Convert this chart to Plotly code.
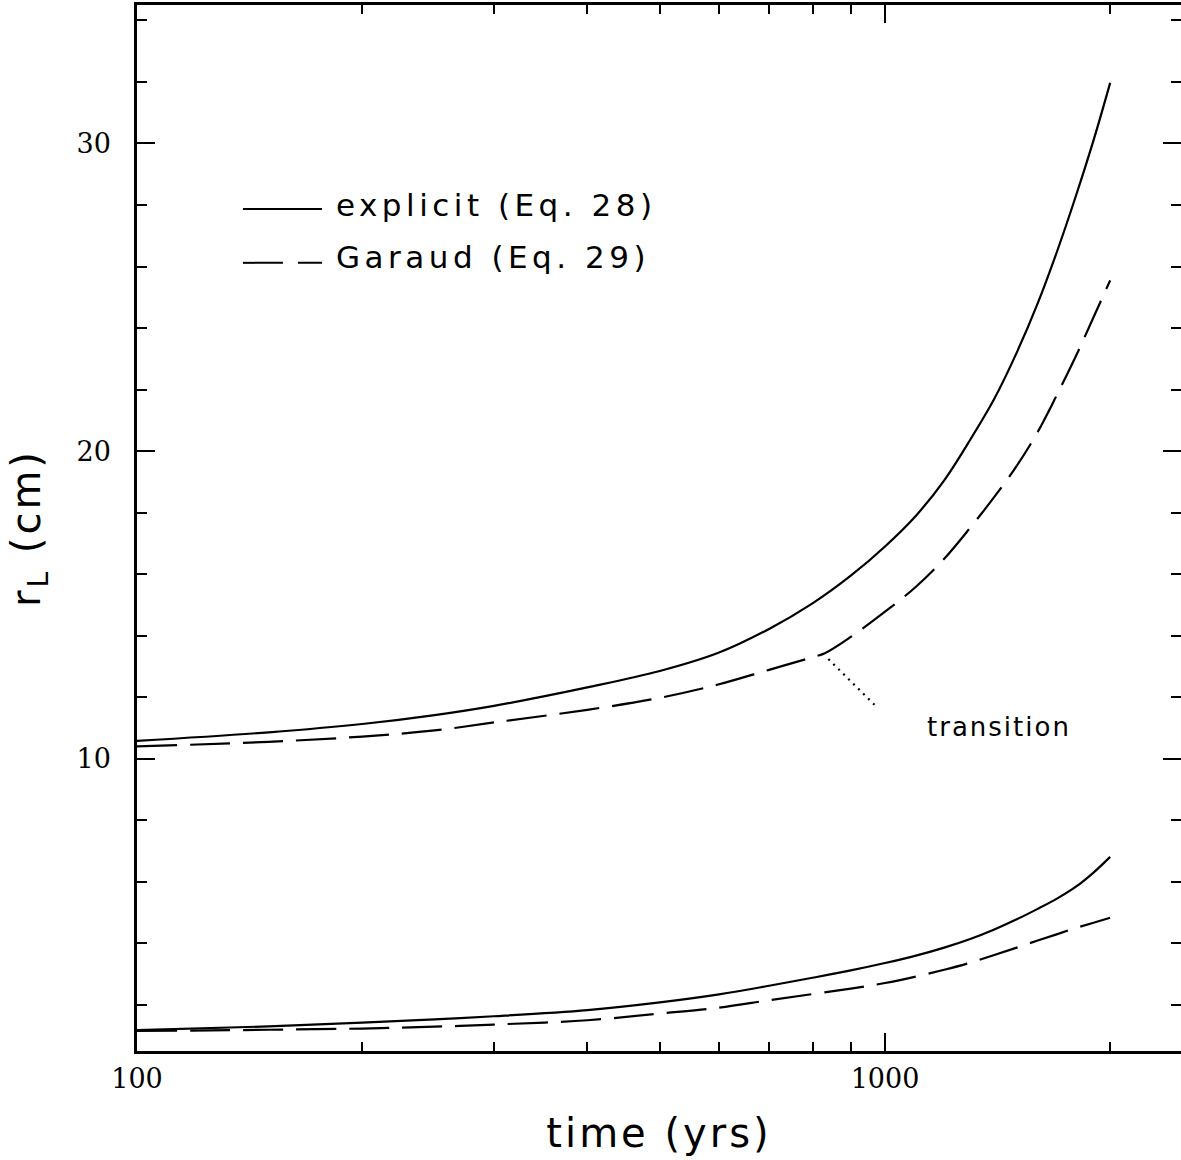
import plotly.graph_objects as go

# ---------------- data ----------------
time_yrs = [100, 150, 200, 250, 300, 400, 500, 600, 700, 800, 900, 1000,
            1100, 1200, 1300, 1400, 1500, 1600, 1700, 1800, 1900, 2000]

explicit_upper = [10.58, 10.86, 11.13, 11.42, 11.72, 12.32, 12.85, 13.45, 14.22, 15.05,
                  15.95, 16.90, 17.90, 19.05, 20.37, 21.70, 23.20, 24.80, 26.52, 28.30,
                  30.10, 31.97]

garaud_time_upper = [100, 150, 200, 250, 300, 400, 500, 600, 700, 800, 831, 900, 1000,
                     1100, 1200, 1300, 1400, 1500, 1600, 1700, 1800, 1900, 2000]
garaud_upper = [10.40, 10.55, 10.72, 10.92, 11.18, 11.59, 11.98, 12.42, 12.89, 13.30, 13.43,
                13.96, 14.78, 15.59, 16.50, 17.51, 18.51, 19.52, 20.62, 21.86, 23.09,
                24.35, 25.55]

explicit_lower = [1.18, 1.30, 1.42, 1.53, 1.63, 1.83, 2.08, 2.34, 2.62, 2.88, 3.12, 3.36,
                  3.60, 3.86, 4.14, 4.45, 4.78, 5.12, 5.46, 5.84, 6.30, 6.81]

garaud_lower = [1.15, 1.19, 1.23, 1.29, 1.36, 1.50, 1.72, 1.91, 2.15, 2.35, 2.53, 2.71,
                2.92, 3.14, 3.37, 3.62, 3.86, 4.09, 4.30, 4.50, 4.67, 4.83]

transition_t = [840, 975]
transition_r = [13.24, 11.68]

x_tickvals = [100, 1000]
x_ticktext = ["100", "1000"]
x_minor = [200, 300, 400, 500, 600, 700, 800, 900, 2000]
y_tickvals = [10, 20, 30]
y_ticktext = ["10", "20", "30"]

legend_labels = ["explicit (Eq. 28)", "Garaud (Eq. 29)"]

# ---------------- figure ----------------
LW = 2.2
DASH = "40px,13px"
HF = "DejaVu Sans"
XR = [2, 2 + 1044 / 748]
YR = [0.5, 34.5]

def sp(txt, ls):
    return '<span style="letter-spacing:%spx">%s</span>' % (ls, txt)

fig = go.Figure()
fig.add_trace(go.Scatter(x=time_yrs, y=explicit_upper, mode="lines", line_shape="spline",
                         line=dict(color="black", width=LW), showlegend=False))
fig.add_trace(go.Scatter(x=garaud_time_upper, y=garaud_upper, mode="lines", line_shape="spline",
                         line=dict(color="black", width=LW, dash=DASH), showlegend=False))
fig.add_trace(go.Scatter(x=time_yrs, y=explicit_lower, mode="lines", line_shape="spline",
                         line=dict(color="black", width=LW), showlegend=False))
fig.add_trace(go.Scatter(x=time_yrs, y=garaud_lower, mode="lines", line_shape="spline",
                         line=dict(color="black", width=LW, dash=DASH), showlegend=False))
fig.add_trace(go.Scatter(x=transition_t, y=transition_r, mode="lines",
                         line=dict(color="black", width=2.2, dash="2px,5px"), showlegend=False))
# invisible trace that activates the mirrored (top/right) tick axes
fig.add_trace(go.Scatter(x=time_yrs, y=explicit_upper, mode="lines", xaxis="x2", yaxis="y2",
                         line=dict(color="rgba(0,0,0,0)", width=0), hoverinfo="skip", showlegend=False))

# legend (drawn manually to mimic original)
fig.add_shape(type="line", xref="paper", yref="paper", x0=0.1015, x1=0.1772, y0=0.805, y1=0.805,
              line=dict(color="black", width=2))
fig.add_shape(type="line", xref="paper", yref="paper", x0=0.1015, x1=0.1772, y0=0.7535, y1=0.7535,
              line=dict(color="black", width=2, dash="40px,15px"))
fig.add_annotation(xref="paper", yref="paper", x=0.1887, y=0.8085, xanchor="left", yanchor="middle",
                   text=sp(legend_labels[0], 4.5), showarrow=False, font=dict(family=HF, size=31, color="black"))
fig.add_annotation(xref="paper", yref="paper", x=0.1887, y=0.7595, xanchor="left", yanchor="middle",
                   text=sp(legend_labels[1], 4.5), showarrow=False, font=dict(family=HF, size=31, color="black"))

fig.add_annotation(x=3.0535, y=11.04, xref="x", yref="y", xanchor="left", yanchor="middle",
                   text=sp("transition", 2), showarrow=False, font=dict(family=HF, size=26, color="black"))

tickfont = dict(family="DejaVu Serif", size=27, color="black")
base = dict(showline=True, linecolor="black", linewidth=2.5, mirror=True,
            ticks="inside", ticklen=18, tickwidth=2, tickcolor="black",
            showgrid=False, zeroline=False, tickfont=tickfont)

fig.update_layout(
    width=1181, height=1160,
    margin=dict(l=137, r=0, t=5, b=109, autoexpand=False),
    plot_bgcolor="white", paper_bgcolor="white", showlegend=False,
    xaxis=dict(type="log", range=XR, tickvals=x_tickvals, ticktext=x_ticktext,
               minor=dict(tickvals=x_minor, ticks="inside", ticklen=9, tickwidth=2, tickcolor="black"),
               ticklabelstandoff=2,
               title=dict(text=sp("time (yrs)", 3), font=dict(family=HF, size=40, color="black"), standoff=26),
               **base),
    yaxis=dict(range=YR, tickvals=y_tickvals, ticktext=y_ticktext,
               minor=dict(dtick=2, tick0=0, ticks="inside", ticklen=10, tickwidth=2, tickcolor="black"),
               ticklabelstandoff=18,
               title=dict(text=sp("r<sub>L</sub> (cm)", 3), font=dict(family=HF, size=40, color="black"), standoff=24),
               **base),
    xaxis2=dict(type="log", range=XR, overlaying="x", side="top", tickvals=x_tickvals,
                showticklabels=False, showline=False, showgrid=False, zeroline=False,
                ticks="inside", ticklen=18, tickwidth=2, tickcolor="black",
                minor=dict(tickvals=x_minor, ticks="inside", ticklen=9, tickwidth=2, tickcolor="black")),
    yaxis2=dict(range=YR, overlaying="y", side="right", tickvals=y_tickvals,
                showticklabels=False, showline=False, showgrid=False, zeroline=False,
                ticks="inside", ticklen=18, tickwidth=2, tickcolor="black",
                minor=dict(dtick=2, tick0=0, ticks="inside", ticklen=10, tickwidth=2, tickcolor="black")),
)

fig.write_html("out.html", config={"displayModeBar": False},
               post_script="document.body.style.margin='0';document.body.style.overflow='hidden';"
                           "document.documentElement.style.overflow='hidden';")
